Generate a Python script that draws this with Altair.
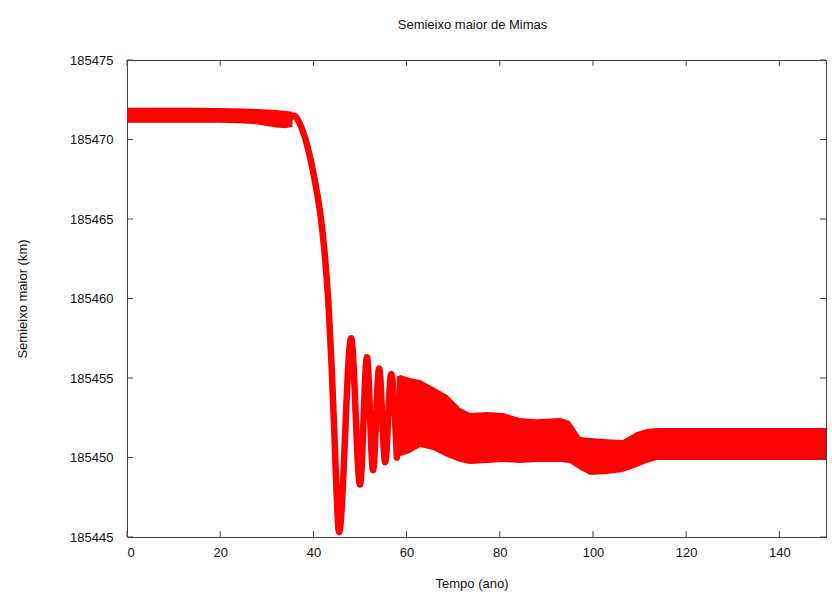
import altair as alt
import pandas as pd

# Axis ticks
x_ticks = [0, 20, 40, 60, 80, 100, 120, 140]
y_ticks = [185445, 185450, 185455, 185460, 185465, 185470, 185475]

# Early plateau: outer edges of the fast oscillation band (years, km)
plateau_t = [0, 5, 10, 15, 20, 25, 28, 30, 32, 34, 35.5]
plateau_hi = [185472.0, 185472.0, 185472.0, 185472.0, 185471.98, 185471.95,
              185471.92, 185471.88, 185471.85, 185471.8, 185471.75]
plateau_lo = [185471.05, 185471.05, 185471.05, 185471.05, 185471.05, 185471.0,
              185470.95, 185470.85, 185470.75, 185470.7, 185470.8]

# Capture: drop of the semi-major axis and the first large librations
decay_t = [34.6, 35.9, 36.9, 38.0, 39.5, 40.8, 41.8, 42.6, 43.3, 43.9, 44.5,
           45.0, 45.5, 48.1, 50.0, 51.5, 52.8, 54.1, 55.4, 56.7, 57.9]
decay_v = [185471.25, 185471.5, 185471.1, 185470.3, 185468.6, 185466.6,
           185464.6, 185462.2, 185459.3, 185455.8, 185451.5, 185447.6,
           185445.3, 185457.5, 185448.3, 185456.3, 185449.2, 185455.6,
           185449.7, 185455.25, 185450.0]

# After capture: outer edges of the dense libration band
band_t = [57.9, 58.7, 60.7, 62.9, 65.7, 68.7, 71.5, 73.6, 77.3, 80.7, 84.3,
          88.0, 93.0, 95.0, 97.3, 99.4, 103.0, 106.4, 109.4, 111.5, 113.7,
          118.7, 130.0, 140.0, 150.0]
band_hi = [185455.1, 185455.19, 185455.0, 185454.87, 185454.43, 185453.93,
           185453.11, 185452.8, 185452.86, 185452.8, 185452.48, 185452.4,
           185452.48, 185452.3, 185451.29, 185451.23, 185451.15, 185451.1,
           185451.6, 185451.8, 185451.86, 185451.86, 185451.86, 185451.86,
           185451.86]
band_lo = [185449.85, 185450.1, 185450.28, 185450.66, 185450.47, 185450.03,
           185449.72, 185449.59, 185449.65, 185449.72, 185449.65, 185449.72,
           185449.72, 185449.65, 185449.21, 185448.9, 185448.96, 185449.09,
           185449.4, 185449.65, 185449.84, 185449.84, 185449.84, 185449.84,
           185449.84]

W, H = 699, 477
RED = "#ff0000"
FRAME = "#444444"
FONT = "Liberation Sans"

xs = alt.Scale(domain=[0, 150], nice=False, zero=False)
ys = alt.Scale(domain=[185445, 185475], nice=False, zero=False)

plateau = pd.DataFrame({"t": plateau_t, "hi": plateau_hi, "lo": plateau_lo})
decay = pd.DataFrame({"t": decay_t, "v": decay_v})
band = pd.DataFrame({"t": band_t, "hi": band_hi, "lo": band_lo})
xt = pd.DataFrame({"t": x_ticks})
yt = pd.DataFrame({"v": y_ticks})

x_axis = alt.Axis(values=x_ticks, title="Tempo (ano)", grid=False, ticks=False,
                  domain=False, labelPadding=9, labelFontSize=13,
                  labelColor="#111", titleFontSize=13, titleFontWeight="normal",
                  titleColor="#111", titleX=W / 2 - 5, titleY=46,
                  titleBaseline="middle", titleAlign="center")
y_axis = alt.Axis(values=y_ticks, title="Semieixo maior (km)", format="d",
                  grid=False, ticks=False, domain=False, labelPadding=14,
                  labelFontSize=13, labelColor="#111", titleFontSize=13,
                  titleFontWeight="normal", titleColor="#111", titleX=-105,
                  titleY=H / 2, titleAngle=-90, titleAlign="center",
                  titleBaseline="middle")


def xenc():
    return alt.X("t:Q", scale=xs, axis=x_axis, title="Tempo (ano)")


def yenc(field):
    return alt.Y(field, scale=ys, axis=y_axis, title="Semieixo maior (km)")


plateau_area = alt.Chart(plateau).mark_area(color=RED).encode(
    x=xenc(), y=yenc("hi:Q"), y2="lo:Q",
)

decay_line = alt.Chart(decay).mark_line(
    color=RED, strokeWidth=6.5, interpolate="monotone", strokeCap="round",
    strokeJoin="round"
).encode(x=xenc(), y=yenc("v:Q"))

band_area = alt.Chart(band).mark_area(color=RED).encode(
    x=xenc(), y=yenc("hi:Q"), y2="lo:Q",
)

# Inward ticks on all four sides of the frame
tick_style = dict(color=FRAME, strokeWidth=1)
xb = alt.Chart(xt).mark_rule(**tick_style).encode(
    x=xenc(), y=alt.value(H), y2=alt.value(H - 6))
xtop = alt.Chart(xt).mark_rule(**tick_style).encode(
    x=xenc(), y=alt.value(0), y2=alt.value(6))
yl = alt.Chart(yt).mark_rule(**tick_style).encode(
    y=yenc("v:Q"), x=alt.value(0), x2=alt.value(6))
yr = alt.Chart(yt).mark_rule(**tick_style).encode(
    y=yenc("v:Q"), x=alt.value(W - 6), x2=alt.value(W))

chart = alt.layer(
    plateau_area, band_area, decay_line, xb, xtop, yl, yr
).properties(
    width=W,
    height=H,
    title=alt.TitleParams("Semieixo maior de Mimas", fontSize=13,
                          fontWeight="normal", color="#111", offset=22,
                          anchor="middle", dx=-4),
    autosize=alt.AutoSizeParams(type="none"),
    padding={"left": 127, "top": 60, "right": 6, "bottom": 62},
).configure(
    font=FONT,
    background="white",
).configure_view(
    stroke=FRAME, strokeWidth=1,
)

chart.save("out.html", embed_options={"renderer": "svg", "actions": False})
